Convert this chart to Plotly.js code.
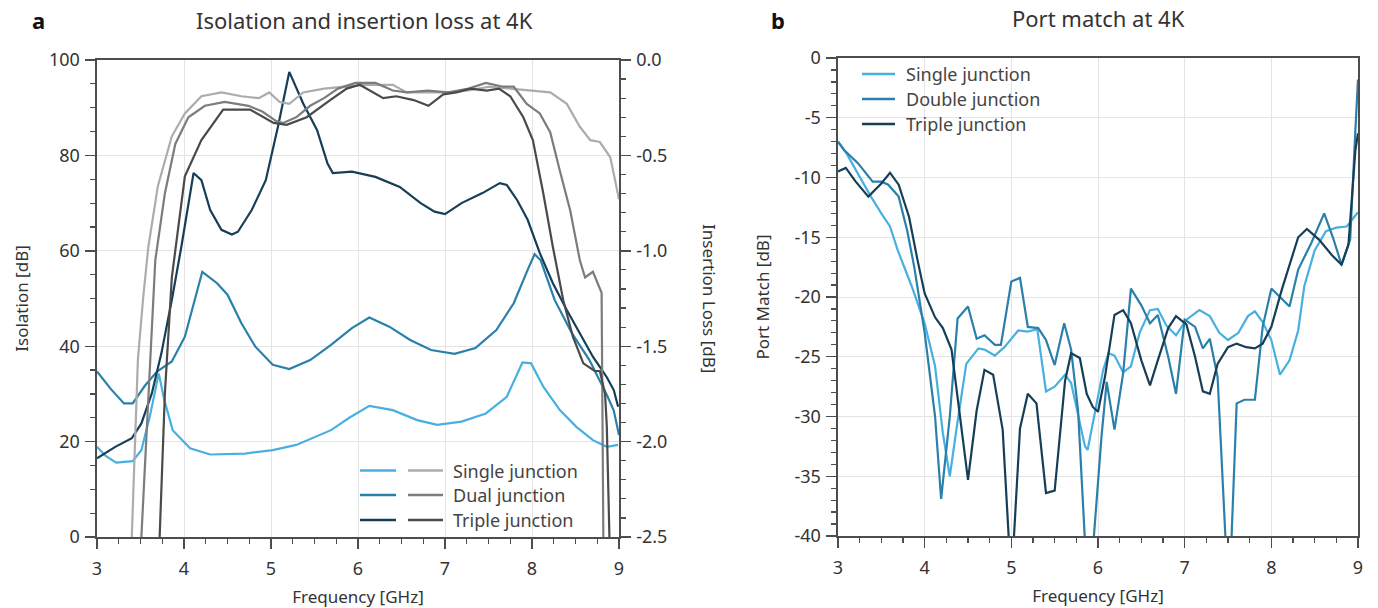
<!DOCTYPE html>
<html>
<head>
<meta charset="utf-8">
<script src="https://cdn.plot.ly/plotly-3.0.1.min.js"></script>
<style>html,body{margin:0;padding:0;background:#fff;} #chart{width:1378px;height:608px;}</style>
</head>
<body>
<div id="chart"></div>
<script>
// ---------- Panel a: isolation (left axis, dB) ----------
var isoSingleX = [3.0, 3.1, 3.22, 3.41, 3.51, 3.61, 3.71, 3.77, 3.87, 4.07, 4.3, 4.7, 5.02, 5.29, 5.69, 5.9, 6.13, 6.4, 6.68, 6.91, 7.19, 7.47, 7.71, 7.89, 7.99, 8.13, 8.32, 8.51, 8.7, 8.86, 8.99];
var isoSingleY = [18.9, 17.0, 15.6, 15.9, 18.2, 25.5, 34.3, 29.0, 22.4, 18.6, 17.3, 17.5, 18.2, 19.3, 22.4, 25.0, 27.5, 26.6, 24.5, 23.5, 24.2, 25.9, 29.4, 36.6, 36.4, 31.5, 26.6, 23.1, 20.3, 18.9, 19.3];

var isoDualX = [3.0, 3.16, 3.31, 3.41, 3.55, 3.69, 3.86, 4.01, 4.21, 4.38, 4.5, 4.66, 4.82, 5.02, 5.21, 5.45, 5.69, 5.93, 6.13, 6.36, 6.6, 6.84, 7.11, 7.35, 7.59, 7.79, 7.95, 8.03, 8.1, 8.26, 8.46, 8.66, 8.86, 8.94, 9.0];
var isoDualY = [34.7, 31.0, 28.0, 28.0, 31.7, 34.7, 36.8, 42.0, 55.6, 53.2, 50.8, 44.8, 39.9, 36.1, 35.2, 37.1, 40.3, 43.8, 46.0, 44.1, 41.3, 39.2, 38.4, 39.6, 43.4, 49.0, 56.0, 59.3, 58.0, 49.7, 42.7, 37.1, 29.8, 26.5, 21.4];

var isoTripleX = [3.0, 3.21, 3.4, 3.51, 3.63, 3.74, 3.86, 3.97, 4.11, 4.2, 4.3, 4.43, 4.55, 4.62, 4.78, 4.94, 5.08, 5.21, 5.37, 5.53, 5.65, 5.71, 5.93, 6.2, 6.48, 6.72, 6.88, 7.0, 7.19, 7.43, 7.63, 7.71, 7.83, 7.95, 8.09, 8.24, 8.4, 8.55, 8.7, 8.86, 8.94, 8.99];
var isoTripleY = [16.5, 18.9, 20.7, 23.8, 30.1, 38.5, 49.7, 60.9, 76.3, 74.8, 68.6, 64.4, 63.4, 64.0, 68.6, 74.8, 86.0, 97.5, 90.9, 85.3, 78.3, 76.3, 76.6, 75.5, 73.4, 70.0, 68.2, 67.7, 70.0, 72.1, 74.2, 73.8, 70.6, 66.5, 59.5, 53.2, 47.6, 42.7, 37.8, 33.5, 30.8, 27.3];

// ---------- Panel a: insertion loss (right axis, dB) ----------
var ilSingleX = [3.40, 3.47, 3.53, 3.59, 3.70, 3.86, 4.01, 4.2, 4.43, 4.66, 4.86, 4.98, 5.1, 5.21, 5.37, 5.61, 5.85, 6.09, 6.4, 6.56, 6.8, 7.04, 7.27, 7.51, 7.75, 7.99, 8.21, 8.4, 8.55, 8.67, 8.78, 8.9, 9.0];
var ilSingleY = [-2.5, -1.57, -1.25, -0.98, -0.66, -0.40, -0.28, -0.19, -0.17, -0.19, -0.20, -0.17, -0.22, -0.23, -0.17, -0.15, -0.14, -0.13, -0.13, -0.17, -0.17, -0.17, -0.16, -0.14, -0.15, -0.16, -0.17, -0.23, -0.35, -0.42, -0.43, -0.51, -0.73];

var ilDualX = [3.51, 3.59, 3.67, 3.78, 3.90, 4.05, 4.24, 4.47, 4.74, 4.90, 5.06, 5.14, 5.29, 5.45, 5.61, 5.77, 5.97, 6.2, 6.4, 6.56, 6.8, 7.04, 7.27, 7.47, 7.67, 7.79, 7.94, 8.09, 8.21, 8.32, 8.44, 8.55, 8.61, 8.70, 8.80, 8.82];
var ilDualY = [-2.5, -1.75, -1.05, -0.70, -0.44, -0.30, -0.24, -0.22, -0.24, -0.27, -0.32, -0.33, -0.30, -0.24, -0.20, -0.15, -0.12, -0.12, -0.16, -0.17, -0.16, -0.17, -0.15, -0.12, -0.14, -0.14, -0.23, -0.28, -0.38, -0.58, -0.79, -1.05, -1.14, -1.11, -1.22, -2.5];

var ilTripleX = [3.72, 3.78, 3.86, 4.01, 4.20, 4.45, 4.76, 5.03, 5.18, 5.41, 5.68, 5.87, 6.02, 6.18, 6.29, 6.44, 6.64, 6.81, 6.98, 7.13, 7.29, 7.48, 7.62, 7.75, 7.90, 8.01, 8.13, 8.24, 8.36, 8.47, 8.59, 8.72, 8.78, 8.84, 8.86, 8.89];
var ilTripleY = [-2.5, -1.75, -1.14, -0.61, -0.42, -0.26, -0.26, -0.33, -0.34, -0.30, -0.21, -0.15, -0.13, -0.17, -0.20, -0.19, -0.21, -0.24, -0.18, -0.17, -0.15, -0.16, -0.15, -0.19, -0.30, -0.42, -0.70, -0.98, -1.26, -1.45, -1.59, -1.63, -1.63, -1.75, -1.92, -2.5];

// ---------- Panel b: port match (dB) ----------
var pmSingleX = [3.0, 3.1, 3.2, 3.38, 3.5, 3.6, 3.69, 3.85, 4.0, 4.12, 4.21, 4.29, 4.37, 4.48, 4.62, 4.69, 4.81, 4.92, 5.08, 5.19, 5.3, 5.4, 5.5, 5.62, 5.69, 5.85, 5.88, 5.98, 6.06, 6.12, 6.19, 6.29, 6.38, 6.48, 6.6, 6.69, 6.79, 6.9, 7.02, 7.17, 7.29, 7.4, 7.5, 7.62, 7.73, 7.81, 7.9, 8.0, 8.1, 8.21, 8.31, 8.38, 8.5, 8.63, 8.75, 8.87, 9.0];
var pmSingleY = [-7.0, -8.0, -9.3, -11.6, -13.0, -14.1, -16.1, -19.1, -22.2, -25.8, -31.4, -35.0, -30.9, -25.6, -24.3, -24.4, -24.9, -24.2, -22.8, -22.9, -22.7, -27.9, -27.5, -26.5, -27.2, -32.5, -32.8, -29.2, -26.1, -24.7, -24.9, -26.3, -25.8, -23.0, -21.1, -21.0, -22.4, -23.2, -21.9, -21.1, -21.6, -23.0, -23.6, -23.0, -21.6, -21.2, -22.1, -23.6, -26.5, -25.3, -22.8, -19.1, -16.1, -14.5, -14.2, -14.1, -12.9];

var pmDoubleX = [3.0, 3.07, 3.23, 3.4, 3.5, 3.58, 3.7, 3.8, 3.88, 4.0, 4.12, 4.19, 4.29, 4.38, 4.5, 4.6, 4.69, 4.81, 4.88, 5.0, 5.1, 5.19, 5.31, 5.4, 5.5, 5.61, 5.69, 5.77, 5.89, 6.04, 6.1, 6.19, 6.29, 6.38, 6.5, 6.6, 6.69, 6.81, 6.9, 7.0, 7.12, 7.21, 7.29, 7.38, 7.51, 7.6, 7.69, 7.81, 7.9, 8.0, 8.1, 8.21, 8.31, 8.46, 8.61, 8.71, 8.81, 8.91, 8.97, 9.0];
var pmDoubleY = [-7.0, -7.7, -8.8, -10.35, -10.35, -10.6, -11.6, -14.5, -17.5, -23.0, -30.0, -36.9, -30.0, -21.8, -20.8, -23.5, -23.2, -24.0, -24.0, -18.7, -18.4, -22.5, -22.6, -23.6, -25.7, -22.2, -24.4, -29.5, -46.0, -31.7, -27.1, -31.1, -26.4, -19.3, -20.7, -22.2, -21.5, -25.0, -28.1, -21.9, -22.5, -24.3, -23.5, -26.7, -46.0, -28.9, -28.6, -28.6, -22.5, -19.3, -20.0, -20.8, -17.7, -15.5, -13.0, -15.0, -17.3, -15.2, -6.0, -1.8];

var pmTripleX = [3.0, 3.09, 3.2, 3.35, 3.5, 3.6, 3.7, 3.82, 3.92, 4.0, 4.12, 4.21, 4.31, 4.4, 4.5, 4.6, 4.69, 4.79, 4.9, 5.0, 5.1, 5.19, 5.29, 5.4, 5.5, 5.62, 5.69, 5.79, 5.87, 5.94, 6.0, 6.08, 6.19, 6.29, 6.38, 6.5, 6.6, 6.69, 6.81, 6.9, 7.02, 7.12, 7.21, 7.29, 7.38, 7.5, 7.6, 7.71, 7.81, 7.9, 8.0, 8.12, 8.23, 8.31, 8.41, 8.55, 8.7, 8.81, 8.89, 8.97, 9.0];
var pmTripleY = [-9.5, -9.2, -10.3, -11.6, -10.5, -9.6, -10.6, -13.3, -17.0, -19.7, -21.7, -22.6, -24.4, -29.5, -35.3, -29.5, -26.1, -26.5, -31.1, -44.0, -31.0, -28.1, -28.9, -36.4, -36.2, -27.0, -24.7, -25.1, -28.1, -29.2, -29.6, -26.7, -21.5, -21.1, -22.2, -25.3, -27.4, -25.3, -22.6, -21.6, -22.3, -25.0, -27.9, -28.1, -25.6, -24.2, -23.9, -24.2, -24.3, -23.9, -22.5, -19.4, -16.9, -15.0, -14.3, -15.2, -16.5, -17.3, -15.6, -7.7, -6.3];

// ---------- Labels & ticks ----------
var seriesNamesA = ['Single junction', 'Dual junction', 'Triple junction'];
var seriesNamesB = ['Single junction', 'Double junction', 'Triple junction'];
var freqTicks = [3, 4, 5, 6, 7, 8, 9];
var isoTicks = [0, 20, 40, 60, 80, 100];
var ilTickVals = [0, -0.5, -1.0, -1.5, -2.0, -2.5];
var ilTickText = ['0.0', '-0.5', '-1.0', '-1.5', '-2.0', '-2.5'];
var pmTickVals = [0, -5, -10, -15, -20, -25, -30, -35, -40];
var pmTickText = ['0', '-5', '-10', '-15', '-20', '-25', '-30', '-35', '-40'];

var blues = ['#48b0e0', '#2a80ab', '#163f57'];
var greys = ['#acacac', '#7c7c7c', '#4a4a4a'];
var FONT = '"Noto Sans", "Open Sans", sans-serif';
var W = 1378, H = 608;

function px(x) { return x / W; }
function py(y) { return 1 - y / H; }

var traces = [
  {x: isoSingleX, y: isoSingleY, name: seriesNamesA[0], line: {color: blues[0]}, xaxis: 'x', yaxis: 'y'},
  {x: isoDualX, y: isoDualY, name: seriesNamesA[1], line: {color: blues[1]}, xaxis: 'x', yaxis: 'y'},
  {x: isoTripleX, y: isoTripleY, name: seriesNamesA[2], line: {color: blues[2]}, xaxis: 'x', yaxis: 'y'},
  {x: ilSingleX, y: ilSingleY, name: seriesNamesA[0] + ' IL', line: {color: greys[0]}, xaxis: 'x', yaxis: 'y2'},
  {x: ilDualX, y: ilDualY, name: seriesNamesA[1] + ' IL', line: {color: greys[1]}, xaxis: 'x', yaxis: 'y2'},
  {x: ilTripleX, y: ilTripleY, name: seriesNamesA[2] + ' IL', line: {color: greys[2]}, xaxis: 'x', yaxis: 'y2'},
  {x: pmSingleX, y: pmSingleY, name: seriesNamesB[0], line: {color: blues[0]}, xaxis: 'x2', yaxis: 'y3'},
  {x: pmDoubleX, y: pmDoubleY, name: seriesNamesB[1], line: {color: blues[1]}, xaxis: 'x2', yaxis: 'y3'},
  {x: pmTripleX, y: pmTripleY, name: seriesNamesB[2], line: {color: blues[2]}, xaxis: 'x2', yaxis: 'y3'}
];
traces.forEach(function (t) {
  t.type = 'scatter'; t.mode = 'lines'; t.showlegend = false;
  t.line.width = 2.2; t.hoverinfo = 'skip';
});

var TICKFONT = {family: FONT, size: 18, color: '#333'};
var TITLEFONT = {family: FONT, size: 17, color: '#333'};
var LEGFONT = {family: FONT, size: 18, color: '#444'};
var axisCommon = {
  showline: true, linecolor: '#4d4d4d', linewidth: 1.6,
  ticks: 'outside', ticklen: 10, tickwidth: 1.4, tickcolor: '#4d4d4d',
  tickfont: TICKFONT,
  zeroline: false, fixedrange: true,
  gridcolor: '#e4e4e4', gridwidth: 1
};
function ax(extra) { return Object.assign({}, axisCommon, extra); }
function minor(dt, t0) { return {dtick: dt, tick0: t0, ticks: 'outside', ticklen: 5, tickwidth: 1.2, tickcolor: '#4d4d4d', showgrid: false}; }

var xDomA = [px(97), px(619)], yDomA = [py(537), py(60)];
var xDomB = [px(838), px(1358)], yDomB = [py(536), py(58)];

var layout = {
  width: W, height: H,
  margin: {l: 0, r: 0, t: 0, b: 0},
  paper_bgcolor: '#fff', plot_bgcolor: '#fff',
  font: {family: FONT, color: '#333'},
  showlegend: false,
  xaxis: ax({domain: xDomA, anchor: 'y', range: [3, 9], tickvals: freqTicks, mirror: true, showgrid: true,
    ticklabelstandoff: 5, minor: minor(0.25, 3),
    title: {text: 'Frequency [GHz]', font: TITLEFONT, standoff: 12}}),
  yaxis: ax({domain: yDomA, anchor: 'x', range: [0, 100], tickvals: isoTicks, showgrid: true,
    ticklabelstandoff: 2, minor: minor(5, 0),
    title: {text: 'Isolation [dB]', font: TITLEFONT, standoff: 16}}),
  yaxis2: ax({overlaying: 'y', side: 'right', anchor: 'x', range: [-2.5, 0], tickvals: ilTickVals, ticktext: ilTickText, showgrid: false,
    ticklabelstandoff: 2, minor: minor(0.1, 0)}),
  xaxis2: ax({domain: xDomB, anchor: 'y3', range: [3, 9], tickvals: freqTicks, mirror: true, showgrid: true,
    ticklabelstandoff: 5, minor: minor(0.25, 3),
    title: {text: 'Frequency [GHz]', font: TITLEFONT, standoff: 12}}),
  yaxis3: ax({domain: yDomB, anchor: 'x2', range: [-40, 0], tickvals: pmTickVals, ticktext: pmTickText, mirror: true, showgrid: true,
    ticklabelstandoff: 2, minor: minor(1, 0),
    title: {text: 'Port Match [dB]', font: TITLEFONT, standoff: 20}}),
  shapes: [],
  annotations: [
    {text: '<b>a</b>', x: px(38), y: py(20), xanchor: 'center', yanchor: 'middle', xref: 'paper', yref: 'paper', showarrow: false, font: {family: FONT, size: 22, color: '#111'}},
    {text: '<b>b</b>', x: px(778), y: py(20), xanchor: 'center', yanchor: 'middle', xref: 'paper', yref: 'paper', showarrow: false, font: {family: FONT, size: 22, color: '#111'}},
    {text: 'Isolation and insertion loss at 4K', x: px(364), y: py(20), xanchor: 'center', yanchor: 'middle', xref: 'paper', yref: 'paper', showarrow: false, font: {family: FONT, size: 22, color: '#333'}},
    {text: 'Port match at 4K', x: px(1098), y: py(18), xanchor: 'center', yanchor: 'middle', xref: 'paper', yref: 'paper', showarrow: false, font: {family: FONT, size: 22, color: '#333'}},
    {text: 'Insertion Loss [dB]', x: px(709), y: py(298), xanchor: 'center', yanchor: 'middle', xref: 'paper', yref: 'paper', showarrow: false, textangle: 90, font: TITLEFONT}
  ]
};

// Legend panel a: blue swatch + grey swatch + label
var legA_rows = [470.5, 495, 520];
for (var i = 0; i < 3; i++) {
  layout.shapes.push({type: 'line', xref: 'paper', yref: 'paper', x0: px(360), x1: px(396), y0: py(legA_rows[i]), y1: py(legA_rows[i]), line: {color: blues[i], width: 2.6}});
  layout.shapes.push({type: 'line', xref: 'paper', yref: 'paper', x0: px(408), x1: px(443), y0: py(legA_rows[i]), y1: py(legA_rows[i]), line: {color: greys[i], width: 2.6}});
  layout.annotations.push({text: seriesNamesA[i], x: px(451), y: py(legA_rows[i]), xref: 'paper', yref: 'paper', xanchor: 'left', yanchor: 'middle', showarrow: false, font: LEGFONT});
}
// Legend panel b
var legB_rows = [74, 99, 124];
for (var j = 0; j < 3; j++) {
  layout.shapes.push({type: 'line', xref: 'paper', yref: 'paper', x0: px(862), x1: px(895), y0: py(legB_rows[j]), y1: py(legB_rows[j]), line: {color: blues[j], width: 2.6}});
  layout.annotations.push({text: seriesNamesB[j], x: px(904), y: py(legB_rows[j]), xref: 'paper', yref: 'paper', xanchor: 'left', yanchor: 'middle', showarrow: false, font: LEGFONT});
}

Plotly.newPlot('chart', traces, layout, {staticPlot: true, displayModeBar: false});
</script>
</body>
</html>
